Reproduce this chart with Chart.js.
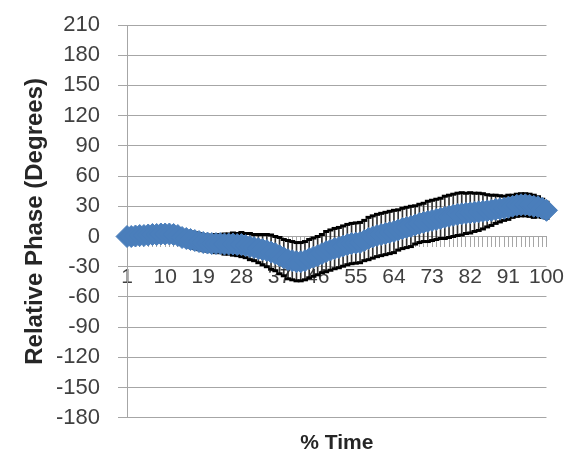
<!DOCTYPE html>
<html>
<head>
<meta charset="utf-8">
<script src="https://cdn.jsdelivr.net/npm/chart.js@4.4.0/dist/chart.umd.min.js"></script>
<style>
  html, body { margin: 0; padding: 0; background: #fff; }
  #wrap { width: 582px; height: 459px; }
</style>
</head>
<body>
<div id="wrap"><canvas id="phaseChart"></canvas></div>
<script>
// % time categories, 1..100
const categories = Array.from({ length: 100 }, (_, i) => String(i + 1));

// mean relative phase (degrees)
const meanPhase = [
  0, 0, 0.5, 1, 1, 1.5, 2, 2, 2.5, 2.5,
  2.5, 2, 1, -1, -2, -3, -4, -5, -6, -6.5,
  -7, -7, -7, -7.5, -7.5, -7.5, -8, -8, -9, -10,
  -11, -12, -13, -14, -15.5, -17, -19, -21, -23, -24,
  -25, -25, -24, -22, -20.5, -19, -17, -15, -13.5, -12,
  -11, -9.5, -8, -7, -6.5, -6, -4, -2, -0.5, 1,
  2, 3, 4, 5, 6.5, 8, 9, 10, 11.5, 13,
  14, 15, 16, 17, 18, 19, 20, 21, 22, 22.5,
  23, 23.5, 24, 24.5, 25, 25.5, 26, 27, 27.5, 28,
  29, 30, 31, 31.5, 31.5, 31, 30, 29.5, 28, 26
];

// standard deviation (error bars)
const sdPhase = [
  4, 4, 5, 5, 5, 6, 6, 6, 6, 7,
  7, 7, 7, 7, 7, 8, 8, 8, 8, 8,
  8, 9, 9, 10, 10, 11, 11, 12, 12, 13,
  13, 14, 15, 16, 17, 17, 18, 18, 19, 19,
  19, 19, 19, 19, 19, 19, 19, 20, 20, 20,
  20, 20, 20, 20, 20, 20, 20, 21, 21, 21,
  21, 21, 21, 21, 20, 20, 20, 20, 19, 19,
  19, 20, 20, 20, 20, 21, 21, 21, 21, 21,
  20, 20, 19, 18.5, 17.5, 16, 15, 14, 13, 12,
  12, 11, 11, 11, 11, 11, 11, 10, 9, 8
];

const yMin = -180;
const yMax = 210;
const yStep = 30;
const labelEvery = 9;

const BLUE = '#4a7ebb';
const GRID = '#a6a6a6';
const TEXT = '#404040';
const FONT = "'Liberation Sans', Arial, sans-serif";

const upperCap = meanPhase.map((m, i) => m + sdPhase[i]);
const lowerCap = meanPhase.map((m, i) => m - sdPhase[i]);
const errRange = meanPhase.map((m, i) => [m - sdPhase[i], m + sdPhase[i]]);

const ctx = document.getElementById('phaseChart').getContext('2d');

new Chart(ctx, {
  type: 'line',
  data: {
    labels: categories,
    datasets: [
      {
        label: 'Mean',
        data: meanPhase,
        order: 0,
        borderColor: BLUE,
        backgroundColor: BLUE,
        borderWidth: 2,
        pointStyle: 'rectRot',
        pointRadius: 11,
        pointBorderWidth: 1,
        pointBorderColor: BLUE,
        pointBackgroundColor: BLUE,
        clip: false
      },
      {
        label: 'SD+',
        data: upperCap,
        order: 1,
        showLine: false,
        pointStyle: 'line',
        pointRadius: 3,
        pointBorderWidth: 3,
        pointBorderColor: '#000',
        clip: false
      },
      {
        label: 'SD-',
        data: lowerCap,
        order: 1,
        showLine: false,
        pointStyle: 'line',
        pointRadius: 3,
        pointBorderWidth: 3,
        pointBorderColor: '#000',
        clip: false
      },
      {
        type: 'bar',
        label: 'SD',
        data: errRange,
        order: 2,
        backgroundColor: '#333',
        barThickness: 1,
        clip: false
      }
    ]
  },
  options: {
    responsive: true,
    maintainAspectRatio: false,
    animation: false,
    layout: { padding: { left: 5, right: 32, top: 25, bottom: 0 } },
    plugins: {
      legend: { display: false },
      tooltip: { enabled: false },
      title: {
        display: true,
        text: '% Time',
        position: 'bottom',
        fullSize: false,
        color: '#262626',
        font: { family: FONT, size: 21, weight: 'bold' },
        padding: { top: 13, bottom: 3 }
      }
    },
    scales: {
      x: {
        type: 'category',
        position: { y: 0 },
        offset: false,
        grid: {
          offset: false,
          drawOnChartArea: false,
          color: GRID,
          tickColor: GRID,
          tickLength: 10
        },
        border: { color: GRID },
        ticks: {
          autoSkip: false,
          maxRotation: 0,
          padding: 18,
          color: TEXT,
          font: { family: FONT, size: 21 },
          callback: function(val, i) {
            return i % labelEvery === 0 ? categories[i] : '';
          }
        }
      },
      y: {
        min: yMin,
        max: yMax,
        afterFit: function(scale) {
          // fixed axis width, and no extra room above/below the end labels
          scale.width = 122;
          scale.paddingTop = 12;
          scale.paddingBottom = 12;
        },
        grid: { color: GRID, tickLength: 9 },
        border: { color: GRID },
        ticks: {
          stepSize: yStep,
          padding: 18,
          color: TEXT,
          font: { family: FONT, size: 22 }
        },
        title: {
          display: true,
          text: 'Relative Phase (Degrees)',
          color: '#262626',
          font: { family: FONT, size: 24, weight: 'bold' },
          padding: { top: 16, bottom: 7 }
        }
      }
    }
  }
});
</script>
</body>
</html>
